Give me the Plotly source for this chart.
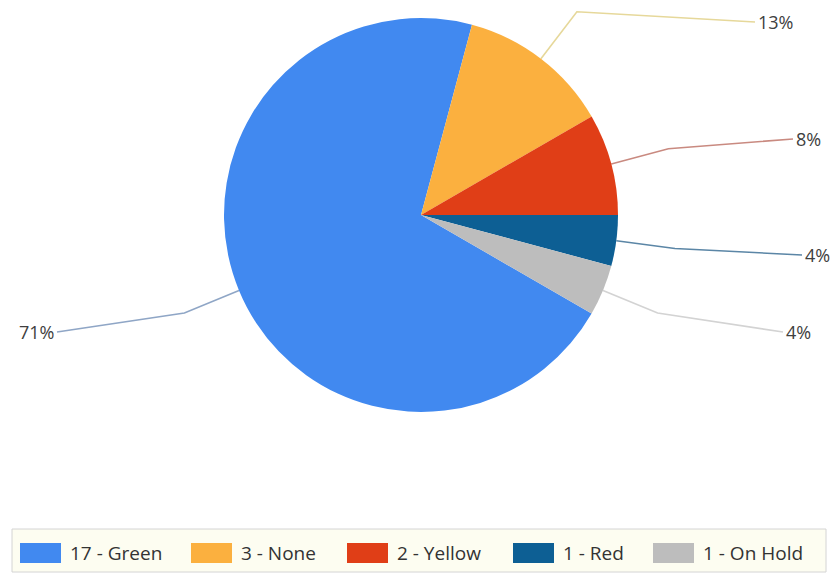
import math
import plotly.graph_objects as go

# ---- data ----
categories = ["Green", "None", "Yellow", "Red", "On Hold"]
counts = [17, 3, 2, 1, 1]
legend_labels = [f"{c} - {n}" for c, n in zip(counts, categories)]

# ---- styles / layout ----
slice_colors = ["#4189f0", "#fbb03f", "#e03e17", "#0d5f94", "#bdbdbd"]
leader_colors = ["#8fa6c6", "#e6d89a", "#c98a80", "#5b86a6", "#d3d3d3"]
W, H = 839, 579
OFF = 8  # page body margin of the html page
CX, CY, R = 421, 215, 197
ROTATION = 120  # first slice starts here (deg clockwise from 12 o'clock)
# label anchor points (pixel) where each leader line ends
label_anchor = [(57, 332), (755, 22), (793, 139), (802, 255), (783, 332)]
legend_x = [20, 191, 347, 513, 653]
FONT = "Open Sans"
TEXT_COLOR = "#404040"

total = sum(counts)
pct = [math.floor(100 * v / total + 0.5) for v in counts]

FW, FH = W - OFF, H - OFF  # figure size so the page fits the window
fig = go.Figure()
fig.add_trace(go.Pie(
    labels=categories, values=counts, sort=False, direction="clockwise",
    rotation=ROTATION, textinfo="none", hoverinfo="label+value+percent",
    marker=dict(colors=slice_colors, line=dict(width=0)),
    domain=dict(x=[(CX - R - OFF) / FW, (CX + R - OFF) / FW],
                y=[1 - (CY + R - OFF) / FH, 1 - (CY - R - OFF) / FH]),
    showlegend=False,
))

annotations = []
cum = 0
for i, v in enumerate(counts):
    mid_cw = ROTATION + (cum + v / 2) / total * 360
    cum += v
    ang = math.radians(90 - mid_cw)
    x0, y0 = CX + R * math.cos(ang), CY - R * math.sin(ang)
    x1, y1 = CX + 1.30 * R * math.cos(ang), CY - 1.30 * R * math.sin(ang)
    x2, y2 = label_anchor[i]
    fig.add_trace(go.Scatter(
        x=[x0, x1, x2], y=[y0, y1, y2], mode="lines",
        line=dict(color=leader_colors[i], width=1.6),
        hoverinfo="skip", showlegend=False, xaxis="x", yaxis="y",
    ))
    right = x2 > CX
    annotations.append(dict(
        x=x2 + (1 if right else -1), y=y2, xref="x", yref="y",
        text=f"{pct[i]}%", showarrow=False,
        xanchor="left" if right else "right", yanchor="middle",
        font=dict(family=FONT, size=18, color=TEXT_COLOR),
    ))

shapes = [dict(type="rect", xref="x", yref="y", x0=12, x1=826, y0=529, y1=572,
               fillcolor="#fdfdf1", line=dict(color="#d4d4d4", width=1), layer="below")]
for i, lx in enumerate(legend_x):
    shapes.append(dict(type="rect", xref="x", yref="y", x0=lx, x1=lx + 41, y0=543, y1=563,
                       fillcolor=slice_colors[i], line=dict(width=0)))
    annotations.append(dict(
        x=lx + 48, y=553, xref="x", yref="y", text=legend_labels[i], showarrow=False,
        xanchor="left", yanchor="middle",
        font=dict(family=FONT, size=19, color="#333333"),
    ))

fig.update_layout(
    width=FW, height=FH, margin=dict(l=0, r=0, t=0, b=0),
    paper_bgcolor="white", plot_bgcolor="rgba(0,0,0,0)",
    xaxis=dict(range=[OFF, W], visible=False, fixedrange=True),
    yaxis=dict(range=[H, OFF], visible=False, fixedrange=True),
    shapes=shapes, annotations=annotations, showlegend=False,
)
fig.write_html("out.html")
